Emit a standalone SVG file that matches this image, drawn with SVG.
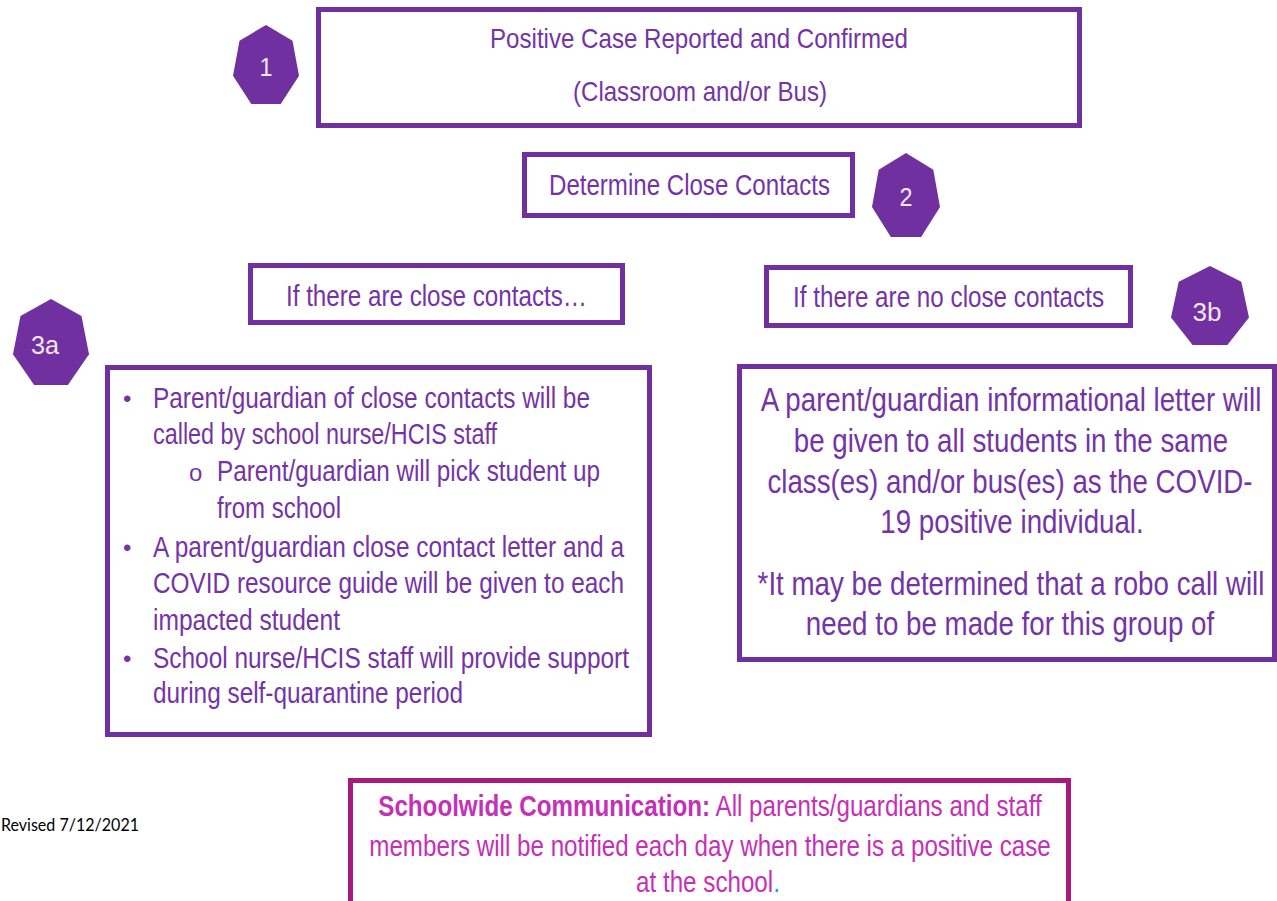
<svg xmlns="http://www.w3.org/2000/svg" width="1277" height="901" viewBox="0 0 1277 901">
<style>
.box{fill:#fff;stroke:#7030A0;stroke-width:5}
.hep{fill:#7030A0}
.t{font-family:"Liberation Sans",Arial,sans-serif;fill:#7434A6}
.n{font-family:"Liberation Sans",Arial,sans-serif;fill:#F0E8F6;font-size:26px;text-anchor:middle}
.c{text-anchor:middle}
.m{font-family:"Liberation Sans",Arial,sans-serif;fill:#C530B5}
</style>
<rect width="1277" height="901" fill="#fff"/>
<g id="connectors"></g>
<g id="badge1"><polygon class="hep" points="266,25 292.5,40.7 299,75.8 280.7,104 251.3,104 233,75.8 239.5,40.7"/><text class="n" x="266" y="76" textLength="13" lengthAdjust="spacingAndGlyphs">1</text></g>
<g id="badge2"><polygon class="hep" points="906,153 933.3,169.7 940,207.1 921.1,237 890.9,237 872,207.1 878.7,169.7"/><text class="n" x="906" y="206" textLength="13" lengthAdjust="spacingAndGlyphs">2</text></g>
<g id="badge3a"><polygon class="hep" points="51,299 81.5,316 89,354.3 67.9,385 34.1,385 13,354.3 20.5,316"/><text class="n" x="45" y="354" textLength="28" lengthAdjust="spacingAndGlyphs">3a</text></g>
<g id="badge3b"><polygon class="hep" points="1210,266 1241.3,281.7 1249,317.4 1227.4,345 1192.6,345 1171,317.4 1178.7,281.7"/><text class="n" x="1207" y="321" textLength="29" lengthAdjust="spacingAndGlyphs">3b</text></g>
<g id="step1">
<rect class="box" x="318.5" y="9.5" width="761" height="116"/>
<text class="t c" x="699" y="48" font-size="28" textLength="418" lengthAdjust="spacingAndGlyphs">Positive Case Reported and Confirmed</text>
<text class="t c" x="700" y="101" font-size="28" textLength="254" lengthAdjust="spacingAndGlyphs">(Classroom and/or Bus)</text>
</g>
<g id="step2">
<rect class="box" x="524.5" y="154.5" width="328" height="61"/>
<text class="t c" x="689.5" y="195" font-size="29" textLength="281" lengthAdjust="spacingAndGlyphs">Determine Close Contacts</text>
</g>
<g id="ifclose">
<rect class="box" x="250.5" y="265.5" width="372" height="57"/>
<text class="t" x="286" y="306" font-size="29" textLength="301" lengthAdjust="spacingAndGlyphs">If there are close contacts…</text>
</g>
<g id="ifnoclose">
<rect class="box" x="766.5" y="267.5" width="364" height="58"/>
<text class="t" x="793" y="307" font-size="29" textLength="311" lengthAdjust="spacingAndGlyphs">If there are no close contacts</text>
</g>
<g id="step3a">
<rect class="box" x="107.5" y="367.5" width="542" height="367"/>
<g class="t" font-size="29">
<text x="123" y="407" font-size="24">•</text>
<text x="153" y="408" textLength="437" lengthAdjust="spacingAndGlyphs">Parent/guardian of close contacts will be</text>
<text x="153" y="444" textLength="344" lengthAdjust="spacingAndGlyphs">called by school nurse/HCIS staff</text>
<text x="189" y="481" font-size="24">o</text>
<text x="217" y="481" textLength="383" lengthAdjust="spacingAndGlyphs">Parent/guardian will pick student up</text>
<text x="217" y="518" textLength="124" lengthAdjust="spacingAndGlyphs">from school</text>
<text x="123" y="556" font-size="24">•</text>
<text x="153" y="557" textLength="471" lengthAdjust="spacingAndGlyphs">A parent/guardian close contact letter and a</text>
<text x="153" y="593" textLength="471" lengthAdjust="spacingAndGlyphs">COVID resource guide will be given to each</text>
<text x="153" y="630" textLength="187" lengthAdjust="spacingAndGlyphs">impacted student</text>
<text x="123" y="667" font-size="24">•</text>
<text x="153" y="668" textLength="476" lengthAdjust="spacingAndGlyphs">School nurse/HCIS staff will provide support</text>
<text x="153" y="703" textLength="310" lengthAdjust="spacingAndGlyphs">during self-quarantine period</text>
</g>
</g>
<g id="step3b">
<rect class="box" x="739.5" y="366.5" width="535" height="293" stroke-width="6"/>
<g class="t c" font-size="33">
<text transform="translate(1011 411) scale(0.84 1)">A parent/guardian informational letter will</text>
<text transform="translate(1011 452) scale(0.84 1)">be given to all students in the same</text>
<text transform="translate(1010 493) scale(0.84 1)">class(es) and/or bus(es) as the COVID-</text>
<text transform="translate(1012 533) scale(0.84 1)">19 positive individual.</text>
<text transform="translate(1011 595) scale(0.84 1)">*It may be determined that a robo call will</text>
<text transform="translate(1010 635) scale(0.84 1)">need to be made for this group of</text>
</g>
</g>
<g id="schoolwide">
<rect x="350.5" y="780.5" width="718" height="140" fill="#fff" stroke="#A6197F" stroke-width="5"/>
<g class="m c" font-size="29.5">
<text transform="translate(710 816) scale(0.82 1)"><tspan font-weight="bold">Schoolwide Communication:</tspan> All parents/guardians and staff</text>
<text transform="translate(710 856) scale(0.82 1)">members will be notified each day when there is a positive case</text>
<text transform="translate(708 892) scale(0.82 1)">at the school<tspan fill="#00B0F0">.</tspan></text>
</g>
</g>
<g id="revised">
<text x="1" y="831" font-family="Lato,'Open Sans',sans-serif" font-size="18" fill="#000" textLength="138" lengthAdjust="spacingAndGlyphs">Revised 7/12/2021</text>
</g>
</svg>
